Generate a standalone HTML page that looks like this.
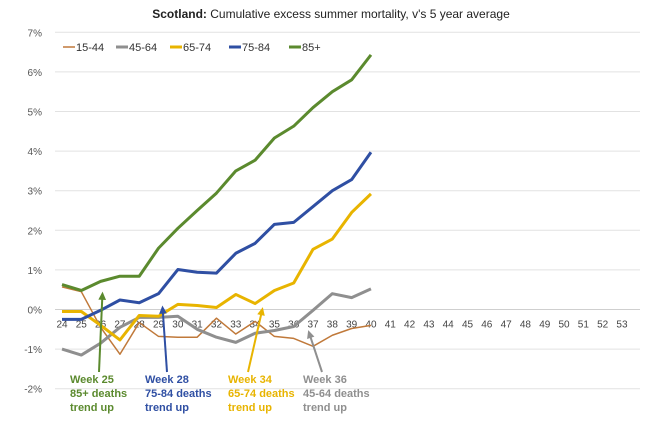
<!DOCTYPE html>
<html><head><meta charset="utf-8"><style>
body{margin:0;background:#fff;}
svg{font-family:"Liberation Sans",sans-serif;}
</style></head><body>
<svg id="c" width="652" height="432" viewBox="0 0 652 432">
<text x="331" y="18" text-anchor="middle" font-size="12" fill="#222"><tspan font-weight="bold">Scotland:</tspan> Cumulative excess summer mortality, v's 5 year average</text>
<g id="grid"></g><g id="lines"></g><g id="ann"></g><g id="legend"></g>
</svg>
<script>
const weeks=[24,25,26,27,28,29,30,31,32,33,34,35,36,37,38,39,40];
const axisWeeks=[24,25,26,27,28,29,30,31,32,33,34,35,36,37,38,39,40,41,42,43,44,45,46,47,48,49,50,51,52,53];
const yTicks=[-2,-1,0,1,2,3,4,5,6,7];
const seriesNames=["15-44","45-64","65-74","75-84","85+"];
const seriesColors=["#c0793a","#8f8f8f","#e8b400","#2f4fa3","#5b8a2e"];
const seriesWidths=[1.5,3,3,3,3];
const s15_44=[0.57,0.45,-0.45,-1.13,-0.33,-0.68,-0.7,-0.7,-0.22,-0.62,-0.3,-0.68,-0.73,-0.93,-0.65,-0.48,-0.4];
const s45_64=[-1.0,-1.15,-0.85,-0.45,-0.2,-0.2,-0.17,-0.5,-0.7,-0.83,-0.6,-0.53,-0.43,-0.02,0.4,0.3,0.52];
const s65_74=[-0.05,-0.05,-0.4,-0.77,-0.15,-0.17,0.13,0.1,0.05,0.38,0.15,0.48,0.67,1.52,1.78,2.45,2.92];
const s75_84=[-0.25,-0.25,-0.02,0.24,0.17,0.4,1.01,0.94,0.92,1.42,1.67,2.15,2.2,2.6,3.0,3.28,3.97];
const s85=[0.63,0.48,0.71,0.84,0.84,1.55,2.05,2.5,2.94,3.5,3.77,4.33,4.63,5.1,5.5,5.8,6.43];
const allSeries=[s15_44,s45_64,s65_74,s75_84,s85];
const annWeeks=[26.1,29.2,34.4,36.75];
const annVals=[0.45,0.1,0.06,-0.52];
const annText=[["Week 25","85+ deaths","trend up"],["Week 28","75-84 deaths","trend up"],["Week 34","65-74 deaths","trend up"],["Week 36","45-64 deaths","trend up"]];
const annColors=["#5b8a2e","#2f4fa3","#e8b400","#8f8f8f"];
const annTextX=[70,145,228,303];
const annTailX=[99,167,248,322];

const NS="http://www.w3.org/2000/svg";
const X=w=>62+(w-24)*19.31;
const Y=v=>309.5-v*39.6;
function mk(t,a,p){const e=document.createElementNS(NS,t);for(const k in a)e.setAttribute(k,a[k]);p.appendChild(e);return e;}
const grid=document.getElementById('grid');
yTicks.forEach(t=>{
  const l=mk('line',{x1:55,x2:640,y1:Y(t),y2:Y(t),stroke:t==0?'#cfcfcf':'#e2e2e2','stroke-width':1},grid);
  
  
  const tx=mk('text',{x:42,y:Y(t)+4,'text-anchor':'end','font-size':10,fill:'#555'},grid);
  tx.textContent=t+'%';
  
  
});
axisWeeks.forEach(w=>{
  const tx=mk('text',{x:X(w),y:Y(0)+18,'text-anchor':'middle','font-size':10,fill:'#444'},grid);
  tx.textContent=w;
  
  
});
const lines=document.getElementById('lines');
allSeries.forEach((s,i)=>{
  const p=mk('polyline',{points:s.map((v,j)=>X(weeks[j])+','+Y(v)).join(' '),fill:'none',stroke:seriesColors[i],'stroke-width':seriesWidths[i],'stroke-linejoin':'round'},lines);
  
  
});
const ann=document.getElementById('ann');
annWeeks.forEach((w,i)=>{
  const tipX=X(w), tipY=Y(annVals[i]);
  const tx0=annTailX[i], ty0=372;
  const ang=Math.atan2(tipY-ty0,tipX-tx0);
  const l=mk('line',{x1:tx0,y1:ty0,x2:tipX-Math.cos(ang)*6,y2:tipY-Math.sin(ang)*6,stroke:annColors[i],'stroke-width':2},ann);
  
  
  const a1=ang+2.7,a2=ang-2.7;
  const h=mk('polygon',{points:`${tipX},${tipY} ${tipX+Math.cos(a1)*9},${tipY+Math.sin(a1)*9} ${tipX+Math.cos(a2)*9},${tipY+Math.sin(a2)*9}`,fill:annColors[i]},ann);
  
  
  annText[i].forEach((t,k)=>{
    const tt=mk('text',{x:annTextX[i],y:383+k*14,'font-size':11,'font-weight':'bold',fill:annColors[i]},ann);
    tt.textContent=t;
    
    
  });
});
const lg=document.getElementById('legend');
const lgX=[63,116,170,229,289];
seriesNames.forEach((n,i)=>{
  const l=mk('line',{x1:lgX[i],x2:lgX[i]+12,y1:47,y2:47,stroke:seriesColors[i],'stroke-width':i==0?1.5:3},lg);
  
  
  const t=mk('text',{x:lgX[i]+13,y:51,'font-size':11,fill:'#333'},lg);
  t.textContent=n;
  
  
});
</script>
</body></html>
